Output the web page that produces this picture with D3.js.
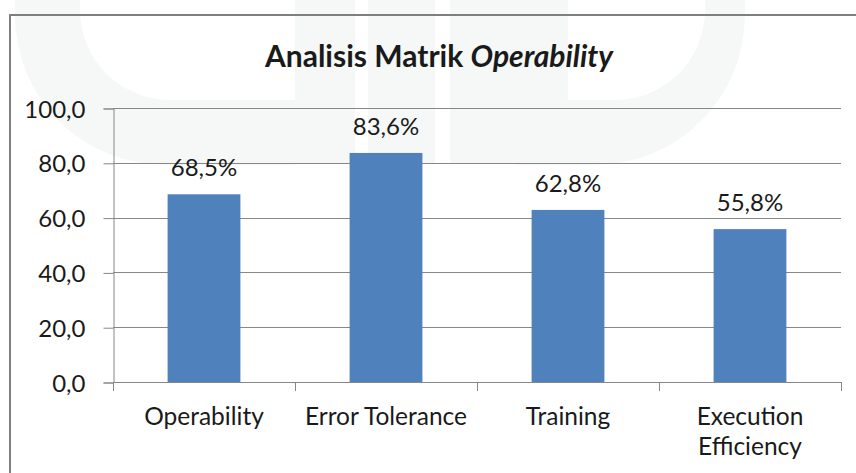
<!DOCTYPE html>
<html><head><meta charset="utf-8">
<script src="https://cdn.jsdelivr.net/npm/d3@7"></script>
<style>
html,body{margin:0;padding:0;background:#fff;}
svg{display:block;}
text{font-family:Lato,"Noto Sans",sans-serif;fill:#1a1a1a;}
</style></head>
<body>
<svg id="chart" width="856" height="473"></svg>
<script>
const titleMain = "Analisis Matrik ";
const titleItalic = "Operability";
const categories = ["Operability", "Error Tolerance", "Training", "Execution Efficiency"];
const values = [68.5, 83.6, 62.8, 55.8];
const valueLabels = ["68,5%", "83,6%", "62,8%", "55,8%"];
const yTicks = [0, 20, 40, 60, 80, 100];

const svg = d3.select("#chart");
const m = {left: 113, right: 841, top: 108, bottom: 382};
const locale = d3.formatLocale({decimal: ",", thousands: ".", grouping: [3], currency: ["", ""]});
const fmt = locale.format(".1f");

// faint watermark (background)
const wm = svg.append("g").attr("fill", "rgb(143,172,155)").attr("fill-opacity", 0.09).attr("pointer-events", "none");
function drawWatermark() {
  wm.append("path").attr("fill-rule", "evenodd")
    .attr("d", "M15,-10 V15 A150,150 0 0 0 165,165 H295 V-10 Z M80,-10 V10 A90,90 0 0 0 170,100 H295 V-10 Z");
  [[295, 355], [368, 435], [450, 515]].forEach(b => {
    wm.append("rect").attr("x", b[0]).attr("y", -10).attr("width", b[1] - b[0]).attr("height", 173);
  });
  wm.append("path").attr("fill-rule", "evenodd")
    .attr("d", "M515,-10 V165 H595 A150,150 0 0 0 745,15 V-10 Z M568,-10 V100 H615 A90,90 0 0 0 705,10 V-10 Z");
}

// outer chart frame (partially cropped)
svg.append("rect").attr("x", 10).attr("y", 15).attr("width", 900).attr("height", 520)
  .attr("fill", "none").attr("stroke", "#7f7f7f").attr("stroke-width", 2);

const x = d3.scaleBand().domain(categories).range([m.left, m.right]).paddingInner(0.6).paddingOuter(0.3);
const y = d3.scaleLinear().domain([0, 100]).range([m.bottom, m.top]);

// gridlines
svg.append("g").selectAll("line").data(yTicks).join("line")
  .attr("x1", m.left).attr("x2", m.right)
  .attr("y1", d => Math.round(y(d)) + 0.5).attr("y2", d => Math.round(y(d)) + 0.5)
  .attr("stroke", "#878787").attr("stroke-width", 1);

// y axis
const yAxis = svg.append("g").attr("transform", `translate(${m.left + 0.5},0.5)`)
  .call(d3.axisLeft(y).tickValues(yTicks).tickSize(10).tickPadding(18).tickFormat(fmt));
yAxis.select(".domain").attr("stroke", "#878787");
yAxis.selectAll(".tick line").attr("stroke", "#878787");
yAxis.selectAll(".tick text").style("font-size", "24px").attr("fill", "#1a1a1a").attr("dy", "0.36em");

// x axis line and boundary ticks
const step = x.step();
const bounds = d3.range(categories.length + 1).map(i => x.range()[0] + i * step);
svg.append("line").attr("x1", m.left).attr("x2", m.right)
  .attr("y1", m.bottom + 0.5).attr("y2", m.bottom + 0.5).attr("stroke", "#878787");
svg.append("g").selectAll("line").data(bounds).join("line")
  .attr("x1", d => Math.round(d) + 0.5).attr("x2", d => Math.round(d) + 0.5)
  .attr("y1", m.bottom).attr("y2", m.bottom + 9).attr("stroke", "#878787");

// bars
svg.append("g").selectAll("rect").data(values).join("rect")
  .attr("x", (d, i) => x(categories[i])).attr("width", x.bandwidth())
  .attr("y", d => y(d)).attr("height", d => y(0) - y(d))
  .attr("fill", "#4f81bd");

// value labels
svg.append("g").selectAll("text").data(values).join("text")
  .attr("x", (d, i) => x(categories[i]) + x.bandwidth() / 2)
  .attr("y", d => y(d) - 18)
  .attr("text-anchor", "middle").style("font-size", "24px")
  .text((d, i) => valueLabels[i]);

// category labels with wrapping
const catG = svg.append("g");
categories.forEach((c, i) => {
  const cx = x(c) + x.bandwidth() / 2;
  const t = catG.append("text").attr("x", cx).attr("y", 425)
    .attr("text-anchor", "middle").style("font-size", "24.5px");
  const words = c.split(" ");
  let line = [];
  let tspan = t.append("tspan").attr("x", cx).attr("dy", 0);
  words.forEach(w => {
    line.push(w);
    tspan.text(line.join(" "));
    if (tspan.node().getComputedTextLength() > step && line.length > 1) {
      line.pop(); tspan.text(line.join(" "));
      line = [w];
      tspan = t.append("tspan").attr("x", cx).attr("dy", 30).text(w);
    }
  });
});

// title
const title = svg.append("text").attr("x", 439).attr("y", 67).attr("text-anchor", "middle")
  .style("font-size", "30px").style("font-weight", "bold");
title.append("tspan").text(titleMain);
title.append("tspan").style("font-style", "italic").text(titleItalic);

drawWatermark();
</script>
</body></html>
